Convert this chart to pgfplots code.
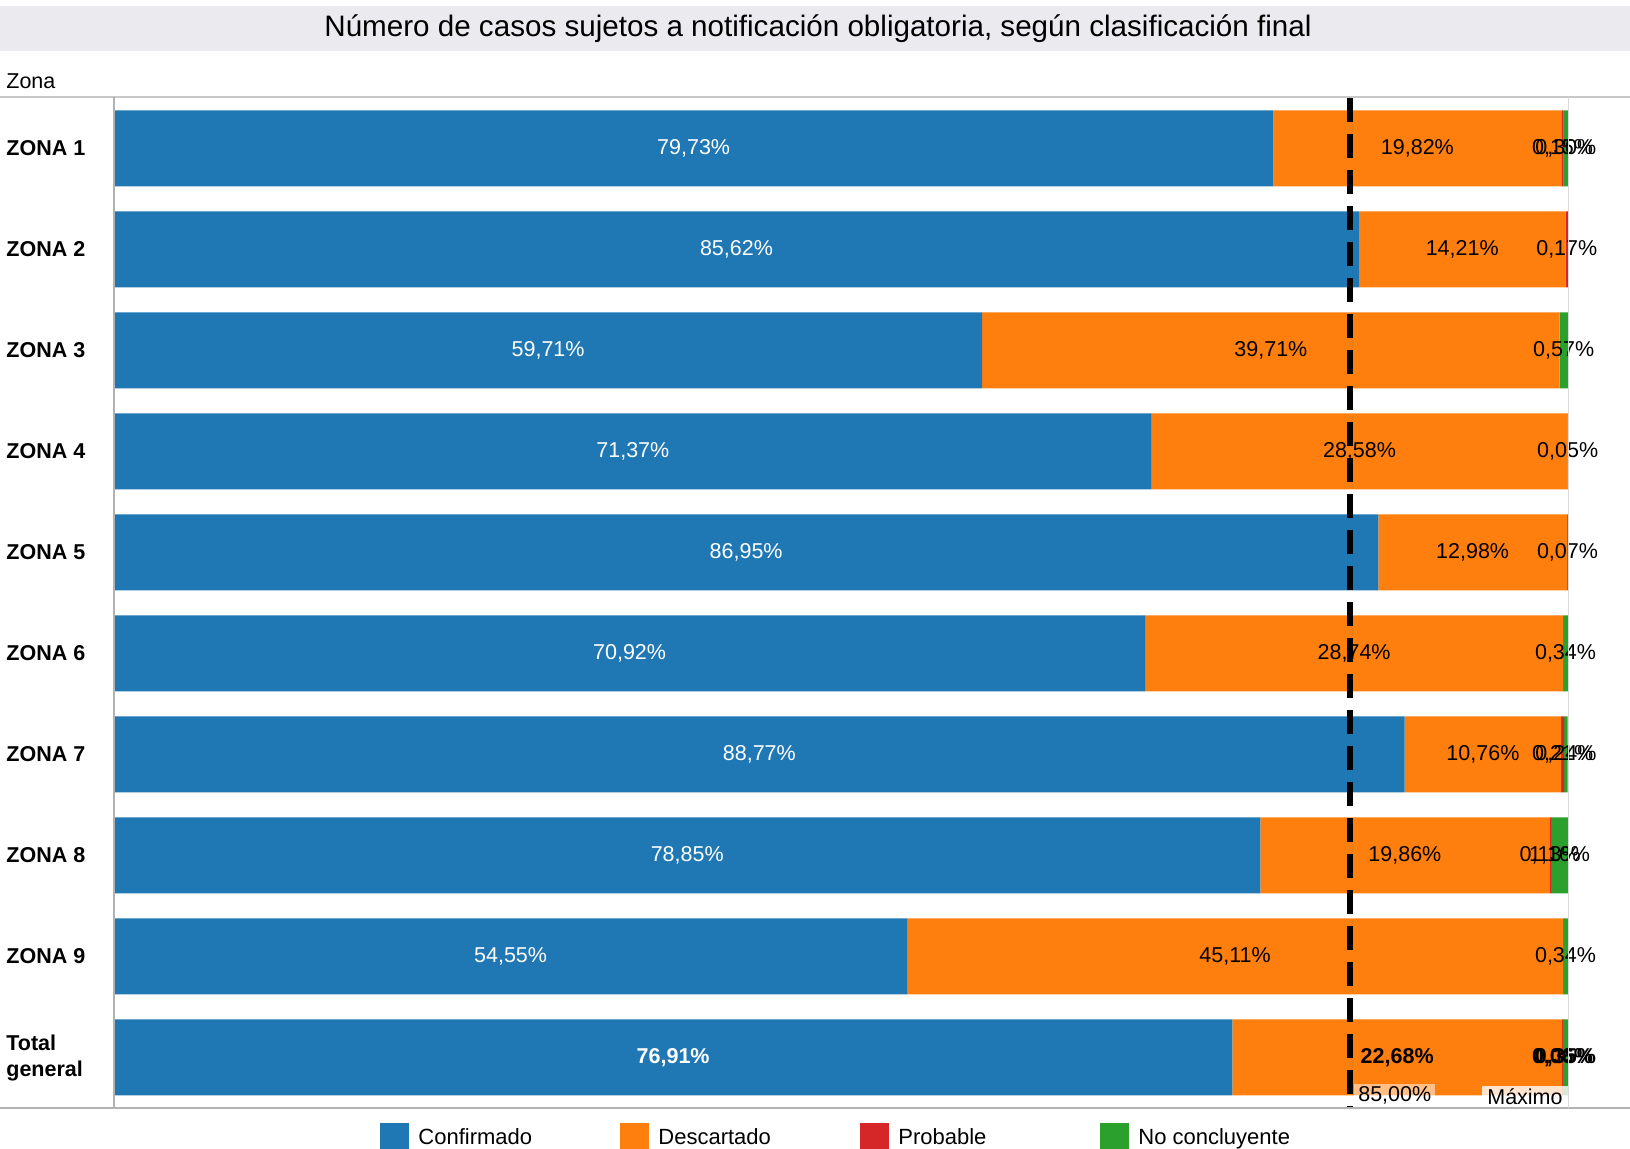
\documentclass[border=0pt]{standalone}
\usepackage{fontspec}
\setmainfont{Liberation Sans}
\usepackage{pgfplots}
\pgfplotsset{compat=1.18}
\usepackage{pgfplotstable}
\definecolor{cBlue}{HTML}{1F77B4}
\definecolor{cOrange}{HTML}{FF7F0E}
\definecolor{cRed}{HTML}{D62728}
\definecolor{cGreen}{HTML}{2CA02C}
\definecolor{band}{HTML}{EBEBEF}

\pgfplotstableread{
y conf desc prob nocon
0 79.73 19.82 0.15 0.30
1 85.62 14.21 0.17 0
2 59.71 39.71 0 0.57
3 71.37 28.58 0 0.05
4 86.95 12.98 0 0.07
5 70.92 28.74 0 0.34
6 88.77 10.76 0.21 0.24
7 78.85 19.86 0.13 1.16
8 54.55 45.11 0 0.34
9 76.91 22.68 0.06 0.35
}\data

% label positions (segment centres)
\pgfplotstableread{
x y lab
39.865 0 79,73
42.81 1 85,62
29.855 2 59,71
35.685 3 71,37
43.475 4 86,95
35.46 5 70,92
44.385 6 88,77
39.425 7 78,85
27.275 8 54,55
}\whitelabs
\pgfplotstableread{
x y lab
38.455 9 76,91
}\whitelabsb
\pgfplotstableread{
x y lab
89.64 0 19,82
99.625 0 0,15
99.85 0 0,30
92.725 1 14,21
99.915 1 0,17
79.565 2 39,71
99.705 2 0,57
85.66 3 28,58
99.975 3 0,05
93.44 4 12,98
99.965 4 0,07
85.29 5 28,74
99.83 5 0,34
94.15 6 10,76
99.635 6 0,21
99.86 6 0,24
88.78 7 19,86
98.775 7 0,13
99.42 7 1,16
77.105 8 45,11
99.83 8 0,34
}\blacklabs
\pgfplotstableread{
x y lab
88.25 9 22,68
99.62 9 0,06
99.825 9 0,35
}\blacklabsb

\newcommand{\lfont}{\fontsize{10.75}{13}\selectfont}

\begin{document}
\begin{tikzpicture}
\useasboundingbox (0,0) rectangle (815pt,574.5pt);
% title band
\fill[band] (0,549pt) rectangle (815pt,571.5pt);
\node[font=\fontsize{14.8}{17}\selectfont] at (409pt,560pt) {Número de casos sujetos a notificación obligatoria, según clasificación final};
\node[anchor=base west, font=\lfont, inner sep=0pt] at (3pt,530pt) {Zona};

\begin{axis}[
  at={(57pt,20.5pt)}, anchor=south west,
  scale only axis, width=727pt, height=505pt,
  xbar stacked, bar width=38pt,
  xmin=0, xmax=100, ymin=-0.5, ymax=9.5, y dir=reverse,
  axis line style={draw=none}, tick style={draw=none},
  xtick=\empty,
  ytick={0,1,2,3,4,5,6,7,8,9},
  yticklabels={ZONA 1,ZONA 2,ZONA 3,ZONA 4,ZONA 5,ZONA 6,ZONA 7,ZONA 8,ZONA 9,{Total\\general}},
  yticklabel style={font=\bfseries\fontsize{10.75}{13}\selectfont, anchor=west, align=left, inner sep=0pt, xshift=-54pt},
  clip=false,
]
\addplot[fill=cBlue, draw=none] table[x=conf, y=y] {\data};
\addplot[fill=cOrange, draw=none] table[x=desc, y=y] {\data};
\addplot[fill=cRed, draw=none] table[x=prob, y=y] {\data};
\addplot[fill=cGreen, draw=none] table[x=nocon, y=y] {\data};
\end{axis}

\begin{axis}[
  at={(57pt,20.5pt)}, anchor=south west,
  scale only axis, width=727pt, height=505pt,
  xmin=0, xmax=100, ymin=-0.5, ymax=9.5, y dir=reverse,
  hide axis, clip=false,
  nodes near coords={\pgfplotspointmeta\%},
  point meta=explicit symbolic,
]
\addplot[black, line width=3pt, dash pattern=on 12pt off 6pt, nodes near coords={}] coordinates {(85,-0.5) (85,9.5)};
\addplot[draw=none, mark=none, every node near coord/.append style={anchor=center, text=white, font=\lfont}] table[x=x,y=y,meta=lab] {\whitelabs};
\addplot[draw=none, mark=none, every node near coord/.append style={anchor=center, text=white, font=\bfseries\lfont}] table[x=x,y=y,meta=lab] {\whitelabsb};
\addplot[draw=none, mark=none, every node near coord/.append style={anchor=center, text=black, font=\lfont}] table[x=x,y=y,meta=lab] {\blacklabs};
\addplot[draw=none, mark=none, every node near coord/.append style={anchor=center, text=black, font=\bfseries\lfont}] table[x=x,y=y,meta=lab] {\blacklabsb};
\node[anchor=south west, fill=white, fill opacity=0.5, text opacity=1, font=\lfont, inner xsep=2pt, inner ysep=1.5pt, xshift=2pt] at (axis cs:85,9.5) {85,00\%};
\node[anchor=south east, fill=white, fill opacity=0.8, text opacity=1, font=\lfont, inner xsep=2.5pt, inner ysep=1.5pt] at (axis cs:100,9.5) {Máximo};
\end{axis}

% frame lines
\draw[color=black!22, line width=0.75pt] (0,526pt) -- (815pt,526pt);
\draw[color=black!30, line width=1pt] (0,20.5pt) -- (815pt,20.5pt);
\draw[color=black!30, line width=0.75pt] (57pt,20.5pt) -- (57pt,526pt);
\draw[color=black!15, line width=0.5pt] (784pt,20.5pt) -- (784pt,526pt);

% legend
\foreach \c/\t [count=\i from 0] in {cBlue/Confirmado, cOrange/Descartado, cRed/Probable, cGreen/No concluyente}{
  \fill[\c] (190pt+\i*120pt,0) rectangle (204.5pt+\i*120pt,13pt);
  \node[anchor=base west, inner sep=0pt, font=\fontsize{11}{13}\selectfont] at (209pt+\i*120pt,2pt) {\t};
}
\end{tikzpicture}
\end{document}
